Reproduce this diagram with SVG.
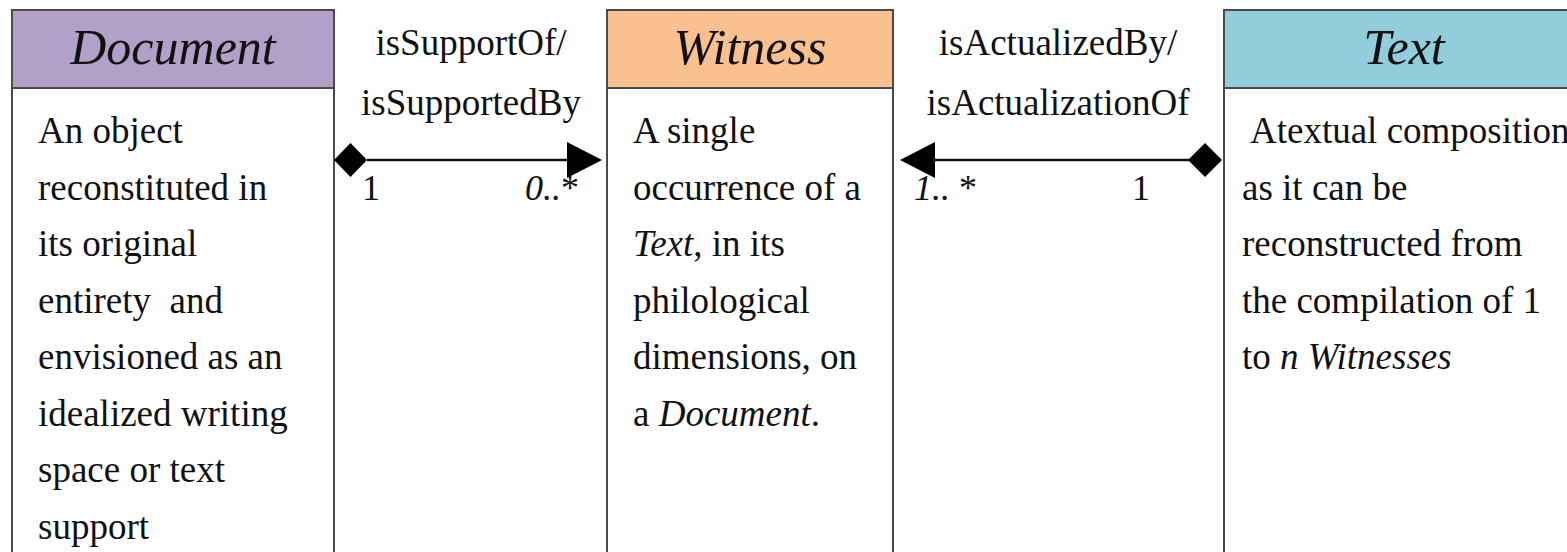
<svg xmlns="http://www.w3.org/2000/svg" width="1567" height="552" viewBox="0 0 1567 552" font-family="Liberation Serif, Times New Roman, serif">
<style>
  text { font-family: "Liberation Serif", "Times New Roman", serif; fill: #111; }
  .box { fill: #ffffff; stroke: #4a4a4a; stroke-width: 2; }
  .hdr { stroke: #4a4a4a; stroke-width: 2; }
  .ttl { font-style: italic; font-size: 50px; text-anchor: middle; }
  .txt { font-size: 37px; }
  .lbl { font-size: 37px; text-anchor: middle; }
  .mult { font-size: 36px; }
  .it { font-style: italic; }
  .conn { stroke: #111; stroke-width: 2.5; fill: none; }
  .head { fill: #000; stroke: none; }
</style>
<rect width="1567" height="552" fill="#ffffff"/>

<g id="node-document">
  <rect class="box" x="12" y="10" width="322" height="560"/>
  <rect class="hdr" x="12" y="10" width="322" height="78" fill="#b1a0c7"/>
  <text class="ttl" x="173" y="64">Document</text>
  <text class="txt" x="38" y="143">An object</text>
  <text class="txt" x="38" y="199.5">reconstituted in</text>
  <text class="txt" x="38" y="256">its original</text>
  <text class="txt" x="38" y="312.5" xml:space="preserve">entirety  and</text>
  <text class="txt" x="38" y="369">envisioned as an</text>
  <text class="txt" x="38" y="425.5">idealized writing</text>
  <text class="txt" x="38" y="482">space or text</text>
  <text class="txt" x="38" y="538.5">support</text>
</g>

<g id="node-witness">
  <rect class="box" x="607" y="10" width="286" height="560"/>
  <rect class="hdr" x="607" y="10" width="286" height="78" fill="#fac090"/>
  <text class="ttl" x="750" y="64">Witness</text>
  <text class="txt" x="633" y="143">A single</text>
  <text class="txt" x="633" y="199.5">occurrence of a</text>
  <text class="txt" x="633" y="256"><tspan class="it">Text</tspan>, in its</text>
  <text class="txt" x="633" y="312.5">philological</text>
  <text class="txt" x="633" y="369">dimensions, on</text>
  <text class="txt" x="633" y="425.5">a <tspan class="it">Document</tspan>.</text>
</g>

<g id="node-text">
  <rect class="box" x="1224" y="10" width="370" height="560"/>
  <rect class="hdr" x="1224" y="10" width="370" height="78" fill="#92cddc"/>
  <text class="ttl" x="1404" y="64">Text</text>
  <text class="txt" x="1250" y="143">Atextual composition</text>
  <text class="txt" x="1242" y="199.5">as it can be</text>
  <text class="txt" x="1242" y="256">reconstructed from</text>
  <text class="txt" x="1242" y="312.5">the compilation of 1</text>
  <text class="txt" x="1242" y="369">to <tspan class="it">n Witnesses</tspan></text>
</g>

<g id="connectors">
  <g id="conn-support">
    <line class="conn" x1="367" y1="160" x2="568" y2="160"/>
    <polygon class="head" points="334,160 350.5,143 367,160 350.5,177"/>
    <polygon class="head" points="567,142 602,160 567,178"/>
    <text class="lbl" x="471" y="55">isSupportOf/</text>
    <text class="lbl" x="471" y="115">isSupportedBy</text>
    <text class="mult" x="362" y="200">1</text>
    <text class="mult" x="525" y="200"><tspan class="it">0..</tspan>*</text>
  </g>
  <g id="conn-actualize">
    <line class="conn" x1="934" y1="160" x2="1189" y2="160"/>
    <polygon class="head" points="900,160 935,142 935,178"/>
    <polygon class="head" points="1188,160 1205,143 1222,160 1205,177"/>
    <text class="lbl" x="1058" y="55">isActualizedBy/</text>
    <text class="lbl" x="1058" y="115">isActualizationOf</text>
    <text class="mult" x="914" y="200"><tspan class="it">1..</tspan> *</text>
    <text class="mult" x="1132" y="200">1</text>
  </g>
</g>
</svg>
